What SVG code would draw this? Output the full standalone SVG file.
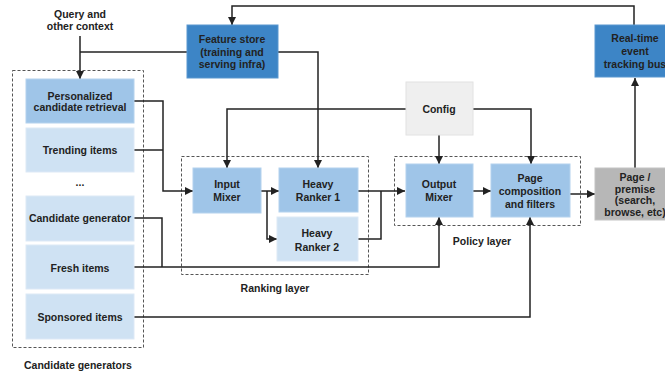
<svg xmlns="http://www.w3.org/2000/svg" width="665" height="375" viewBox="0 0 665 375">
<defs>
<marker id="arr" viewBox="0 0 10 10" refX="10" refY="5" markerWidth="8" markerHeight="8" markerUnits="userSpaceOnUse" orient="auto">
<path d="M0,0 L10,5 L0,10 z" fill="#222"/>
</marker>
<style>
text{font-family:"Liberation Sans",Arial,sans-serif;font-size:10.5px;font-weight:bold;fill:#222;text-anchor:middle}
.dark{fill:#3d85c6;stroke:#5b97cf;stroke-width:1}
.mid{fill:#9fc5e8;stroke:#b4d2ee;stroke-width:1}
.light{fill:#cfe2f3;stroke:#dde9f6;stroke-width:1}
.cfg{fill:#efefef;stroke:#e2e2e2;stroke-width:1}
.gray{fill:#b7b7b7;stroke:#c4c4c4;stroke-width:1}
.dash{fill:none;stroke:#555;stroke-width:1;stroke-dasharray:3,2}
.c{fill:none;stroke:#222;stroke-width:1.5}
.a{marker-end:url(#arr)}
</style>
</defs>
<rect width="665" height="375" fill="#fff"/>

<g id="groups">
<rect class="dash" x="12.5" y="70.5" width="131" height="277"/>
<text x="78" y="369">Candidate generators</text>
<rect class="dash" x="181.5" y="156.5" width="187" height="118"/>
<text x="275" y="292">Ranking layer</text>
<rect class="dash" x="394.5" y="156.5" width="186" height="69"/>
<text x="482" y="245">Policy layer</text>
</g>

<g id="connectors">
<path class="c a" d="M80,36 V79"/>
<path class="c" d="M187,52 H80"/>
<path class="c a" d="M634,25 V6 H232 V25"/>
<path class="c a" d="M278,52 H318 V168"/>
<path class="c a" d="M406,109 H227 V168"/>
<path class="c a" d="M439,135 V164"/>
<path class="c a" d="M473,109 H531 V164"/>
<path class="c a" d="M134,101 H163 V191 H193"/>
<path class="c" d="M134,150 H163"/>
<path class="c a" d="M261,191 H279"/>
<path class="c a" d="M267,191 V239 H277"/>
<path class="c a" d="M358,191 H405"/>
<path class="c" d="M358,239 H381 V191"/>
<path class="c a" d="M473,191 H491"/>
<path class="c" d="M134,218 H162 V267"/>
<path class="c a" d="M134,267 H439 V217"/>
<path class="c a" d="M134,317 H530 V217"/>
<path class="c a" d="M570,194 H595"/>
<path class="c a" d="M635,168 V78"/>
</g>

<g id="query">
<text x="80" y="18">Query and</text>
<text x="80" y="30">other context</text>
</g>

<g id="feature-store">
<rect class="dark" x="187" y="25" width="91" height="53"/>
<text x="232" y="43">Feature store</text>
<text x="232" y="55.5">(training and</text>
<text x="232" y="68">serving infra)</text>
</g>

<g id="event-bus">
<rect class="dark" x="595" y="25" width="80" height="52"/>
<text x="635" y="42">Real-time</text>
<text x="635" y="55">event</text>
<text x="635" y="68">tracking bus</text>
</g>

<g id="config">
<rect class="cfg" x="406" y="82" width="67" height="53"/>
<text x="439" y="113">Config</text>
</g>

<g id="personalized">
<rect class="mid" x="26" y="79" width="108" height="44"/>
<text x="80" y="99.5">Personalized</text>
<text x="80" y="111">candidate retrieval</text>
</g>

<g id="trending">
<rect class="light" x="26" y="128" width="108" height="44"/>
<text x="80" y="154">Trending items</text>
</g>

<g id="ellipsis">
<text x="80" y="186">...</text>
</g>

<g id="candidate-generator">
<rect class="light" x="26" y="196" width="108" height="45"/>
<text x="80" y="222">Candidate generator</text>
</g>

<g id="fresh">
<rect class="light" x="26" y="245" width="108" height="44"/>
<text x="80" y="271.5">Fresh items</text>
</g>

<g id="sponsored">
<rect class="light" x="26" y="294" width="108" height="45"/>
<text x="80" y="321">Sponsored items</text>
</g>

<g id="input-mixer">
<rect class="mid" x="193" y="168" width="68" height="45"/>
<text x="227" y="188">Input</text>
<text x="227" y="201">Mixer</text>
</g>

<g id="heavy-ranker-1">
<rect class="mid" x="279" y="168" width="79" height="44"/>
<text x="318" y="188">Heavy</text>
<text x="318" y="201">Ranker 1</text>
</g>

<g id="heavy-ranker-2">
<rect class="light" x="277" y="217" width="81" height="44"/>
<text x="317" y="237">Heavy</text>
<text x="317" y="250.5">Ranker 2</text>
</g>

<g id="output-mixer">
<rect class="mid" x="406" y="164" width="67" height="53"/>
<text x="439" y="188">Output</text>
<text x="439" y="201">Mixer</text>
</g>

<g id="page-composition">
<rect class="mid" x="491" y="164" width="79" height="53"/>
<text x="530" y="182">Page</text>
<text x="530" y="195">composition</text>
<text x="530" y="208">and filters</text>
</g>

<g id="page-premise">
<rect class="gray" x="595" y="168" width="80" height="52"/>
<text x="635" y="181">Page /</text>
<text x="635" y="192.5">premise</text>
<text x="635" y="204">(search,</text>
<text x="635" y="215.5">browse, etc)</text>
</g>
</svg>
